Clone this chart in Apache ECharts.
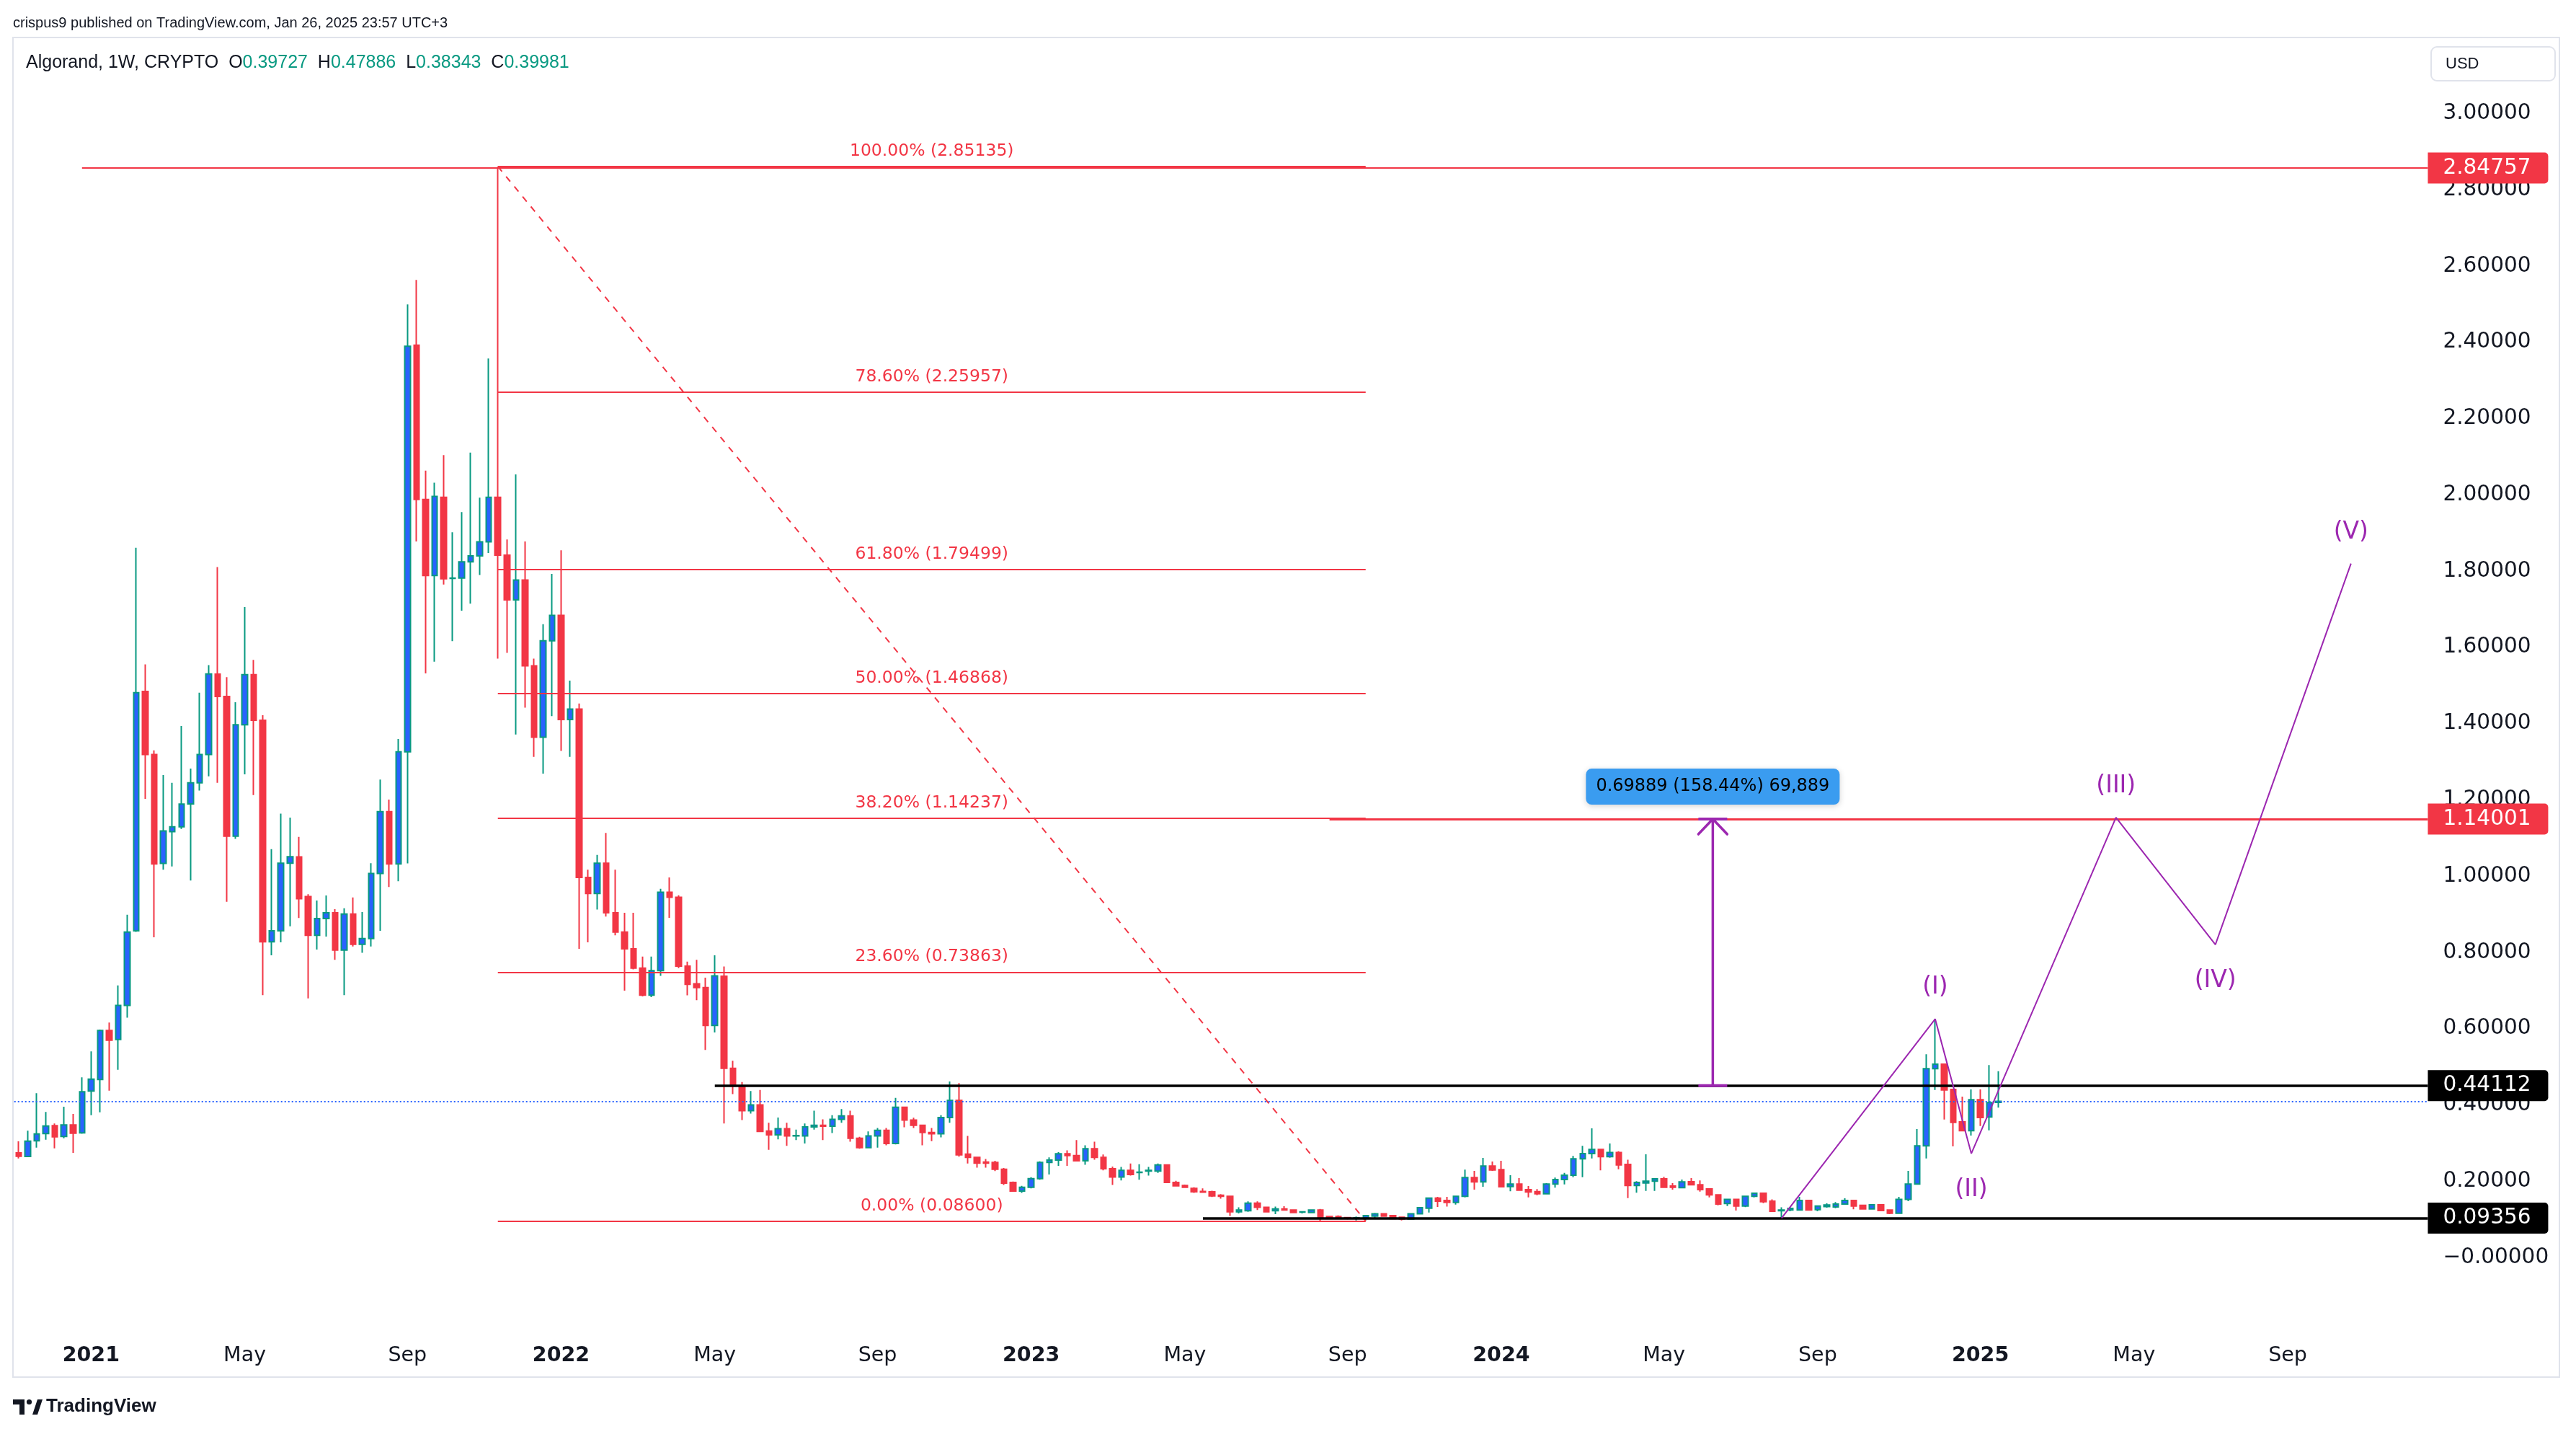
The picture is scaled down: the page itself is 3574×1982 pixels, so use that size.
<!DOCTYPE html>
<html><head><meta charset="utf-8">
<script src="https://cdn.jsdelivr.net/npm/echarts@6/dist/echarts.min.js"></script>
<style>html,body{margin:0;padding:0;background:#fff;}#c{width:3574px;height:1982px;}</style>
</head><body><div id="c"></div>
<script>
// ---------- DATA ----------
const START_WEEK = '2020-11-09';      // first weekly bar
const FUTURE_WEEKS = 47;              // empty weeks to the right of the last bar
const OPEN = [
0.2647,0.2552,0.2962,0.3151,0.3360,0.3076,0.3378,0.3170,0.4267,0.4570,
0.5855,0.5621,0.6512,0.8470,1.4750,1.3095,1.0240,1.1070,1.1200,1.1800,
1.2353,1.3095,1.5200,1.4615,1.0950,1.3872,1.5188,1.3990,0.8183,0.8470,
1.0243,1.0410,0.9370,0.8352,0.8790,0.8943,0.7964,0.8909,0.8116,0.8268,
0.9973,1.1593,1.0226,1.3163,2.3830,1.9780,1.7788,1.9840,1.7710,1.7720,
1.8147,1.8300,1.8669,1.9840,1.8320,1.7150,1.7670,1.5420,1.3545,1.6075,
1.6740,1.4010,1.4285,0.9871,0.9450,1.0243,0.8943,0.8437,0.7997,0.7491,
0.6782,0.7424,0.9483,0.9348,0.7542,0.7080,0.6980,0.5989,0.7280,0.4865,
0.4403,0.3753,0.3906,0.3220,0.3119,0.3282,0.3092,0.3092,0.3327,0.3372,
0.3345,0.3526,0.3617,0.3029,0.2785,0.3092,0.3237,0.2893,0.3843,0.3508,
0.3372,0.3183,0.3147,0.3572,0.4024,0.2613,0.2531,0.2405,0.2396,0.2215,
0.1871,0.1645,0.1745,0.1971,0.2396,0.2459,0.2622,0.2577,0.2441,0.2757,
0.2531,0.2233,0.2016,0.2188,0.2133,0.2170,0.2170,0.2332,0.1871,0.1790,
0.1718,0.1636,0.1627,0.1536,0.1509,0.1102,0.1130,0.1329,0.1220,0.1130,
0.1175,0.1148,0.1090,0.1084,0.1147,0.0977,0.0977,0.0951,0.0939,0.0939,
0.0989,0.1052,0.1002,0.0958,0.0914,0.1052,0.1197,0.1462,0.1399,0.1349,
0.1506,0.1998,0.1884,0.2300,0.2206,0.1765,0.1828,0.1683,0.1632,0.1576,
0.1830,0.1947,0.2061,0.2489,0.2628,0.2735,0.2546,0.2659,0.2344,0.1790,
0.1859,0.1903,0.1966,0.1777,0.1733,0.1891,0.1809,0.1702,0.1544,0.1317,
0.1430,0.1254,0.1506,0.1588,0.1380,0.1128,0.1147,0.1147,0.1399,0.1159,
0.1241,0.1229,0.1304,0.1399,0.1273,0.1178,0.1286,0.1147,0.1065,0.1430,
0.1828,0.2830,0.4853,0.4972,0.4311,0.3460,0.3227,0.4040,0.3586,0.39727];
const HIGH = [
0.2949,0.3227,0.4210,0.3718,0.3416,0.3857,0.3668,0.4626,0.5307,0.5880,
0.6063,0.7037,0.8890,1.8514,1.5459,1.3200,1.2555,1.2353,1.3838,1.2725,
1.4716,1.5440,1.8007,1.5120,1.4463,1.6960,1.5577,1.4125,1.0614,1.1542,
1.1440,1.0935,0.9430,0.9264,0.9399,0.9040,0.9060,0.9347,0.8960,1.0243,
1.2437,1.1914,1.3500,2.4894,2.5540,2.0540,2.0220,2.0945,1.8920,1.9450,
2.1010,1.9830,2.3480,2.8500,1.8730,2.0440,1.8680,1.5610,1.6510,1.7830,
1.8450,1.5030,1.4430,1.0074,1.0460,1.1036,1.0074,0.8943,0.8943,0.7795,
0.7795,0.9570,0.9870,0.9400,0.7660,0.7710,0.7240,0.7830,0.7533,0.5064,
0.4503,0.4268,0.4295,0.3436,0.3572,0.3436,0.3255,0.3418,0.3752,0.3526,
0.3635,0.3797,0.3752,0.3070,0.3210,0.3300,0.3300,0.4087,0.3860,0.3570,
0.3390,0.3300,0.3635,0.4520,0.4476,0.3092,0.2550,0.2486,0.2440,0.2251,
0.1898,0.1780,0.2007,0.2423,0.2531,0.2667,0.2712,0.2984,0.2848,0.2938,
0.2604,0.2287,0.2278,0.2369,0.2350,0.2278,0.2369,0.2350,0.1917,0.1817,
0.1745,0.1717,0.1654,0.1563,0.1520,0.1220,0.1374,0.1374,0.1238,0.1238,
0.1247,0.1157,0.1110,0.1166,0.1178,0.0989,0.1008,0.0958,0.0977,0.1020,
0.1071,0.1065,0.1014,0.0977,0.1065,0.1229,0.1481,0.1494,0.1494,0.1525,
0.2206,0.2174,0.2515,0.2420,0.2439,0.2061,0.1985,0.1777,0.1695,0.1853,
0.1998,0.2124,0.2565,0.2830,0.3290,0.2740,0.2893,0.2691,0.2470,0.1903,
0.2609,0.1979,0.2017,0.1853,0.1947,0.1985,0.1922,0.1714,0.1557,0.1437,
0.1449,0.1525,0.1607,0.1600,0.1430,0.1222,0.1222,0.1494,0.1418,0.1273,
0.1323,0.1355,0.1456,0.1405,0.1292,0.1304,0.1304,0.1166,0.1494,0.2174,
0.3271,0.5231,0.6157,0.4980,0.4320,0.4122,0.4311,0.4311,0.4947,0.47886];
const LOW = [
0.2502,0.2540,0.2785,0.2993,0.2766,0.3031,0.2647,0.3150,0.3636,0.3711,
0.4279,0.4827,0.6190,0.8440,1.1930,0.8301,1.0075,1.0160,1.1140,0.9787,
1.2150,1.2521,1.2353,0.9230,1.0880,1.2572,1.2032,0.6782,0.7829,0.8170,
0.8588,0.8808,0.6698,0.7980,0.8320,0.7711,0.6782,0.8060,0.7896,0.8060,
0.8470,0.9617,0.9770,1.0240,1.8680,1.5222,1.5527,1.7550,1.6067,1.6867,
1.7050,1.7800,1.8376,1.5610,1.5760,1.3620,1.4320,1.3030,1.2590,1.4100,
1.3190,1.3030,0.8000,0.8167,0.9027,0.8842,0.8352,0.6900,0.7460,0.6750,
0.6730,0.7290,0.8810,0.7490,0.6780,0.6650,0.5347,0.5803,0.3418,0.4186,
0.3508,0.3680,0.3190,0.2730,0.3002,0.2830,0.2984,0.2893,0.3255,0.2984,
0.3165,0.3436,0.2938,0.2758,0.2776,0.2785,0.2848,0.2870,0.3318,0.3300,
0.2848,0.2956,0.3056,0.3436,0.2550,0.2369,0.2260,0.2260,0.2170,0.1808,
0.1627,0.1600,0.1717,0.1944,0.2079,0.2306,0.2306,0.2430,0.2333,0.2468,
0.2188,0.1808,0.1925,0.2052,0.1944,0.2052,0.2124,0.1853,0.1763,0.1736,
0.1600,0.1600,0.1490,0.1446,0.0994,0.1057,0.1102,0.1148,0.1084,0.1039,
0.1130,0.1066,0.1060,0.1065,0.0863,0.0914,0.0914,0.0901,0.0876,0.0860,
0.0939,0.0977,0.0914,0.0876,0.0908,0.1040,0.1084,0.1229,0.1241,0.1292,
0.1481,0.1683,0.1758,0.2174,0.1746,0.1639,0.1650,0.1481,0.1538,0.1557,
0.1733,0.1820,0.2010,0.2010,0.2502,0.2187,0.2521,0.2218,0.1462,0.1601,
0.1650,0.1650,0.1733,0.1683,0.1714,0.1790,0.1632,0.1481,0.1273,0.1254,
0.1134,0.1223,0.1481,0.1330,0.1103,0.0936,0.1115,0.1128,0.1134,0.1115,
0.1210,0.1197,0.1292,0.1166,0.1159,0.1166,0.1115,0.1040,0.1052,0.1380,
0.1810,0.2502,0.4298,0.3523,0.2817,0.3220,0.3101,0.3353,0.3239,0.38343];
const CLOSE = [
0.2558,0.2955,0.3145,0.3352,0.3069,0.3378,0.3163,0.4248,0.4581,0.5855,
0.5602,0.6512,0.8437,1.4716,1.3095,1.0226,1.1087,1.1200,1.1795,1.2353,
1.3095,1.5206,1.4615,1.0952,1.3872,1.5188,1.3990,0.8183,0.8470,1.0243,
1.0411,0.9314,0.8352,0.8790,0.8943,0.7964,0.8909,0.8116,0.8268,0.9973,
1.1593,1.0226,1.3163,2.3797,1.9780,1.7788,1.9864,1.7704,1.7720,1.8147,
1.8300,1.8669,1.9840,1.8320,1.7150,1.7670,1.5420,1.3545,1.6075,1.6740,
1.4010,1.4285,0.9871,0.9450,1.0243,0.8943,0.8437,0.7997,0.7491,0.6782,
0.7424,0.9483,0.9348,0.7542,0.7069,0.6980,0.5989,0.7289,0.4865,0.4403,
0.3753,0.3906,0.3210,0.3119,0.3282,0.3092,0.3100,0.3327,0.3372,0.3345,
0.3526,0.3617,0.3029,0.2785,0.3092,0.3237,0.2893,0.3843,0.3508,0.3372,
0.3183,0.3147,0.3572,0.4024,0.2595,0.2531,0.2378,0.2378,0.2215,0.1853,
0.1645,0.1745,0.1971,0.2396,0.2459,0.2622,0.2577,0.2441,0.2757,0.2531,
0.2233,0.2016,0.2188,0.2079,0.2140,0.2188,0.2332,0.1871,0.1781,0.1745,
0.1627,0.1618,0.1518,0.1509,0.1102,0.1148,0.1329,0.1220,0.1102,0.1175,
0.1148,0.1084,0.1103,0.1147,0.0939,0.0951,0.0939,0.0926,0.0945,0.1002,
0.1052,0.0989,0.0920,0.0914,0.1052,0.1210,0.1462,0.1380,0.1349,0.1506,
0.1998,0.1884,0.2300,0.2199,0.1758,0.1828,0.1670,0.1620,0.1576,0.1830,
0.1947,0.2061,0.2489,0.2628,0.2735,0.2546,0.2659,0.2332,0.1790,0.1872,
0.1903,0.1966,0.1746,0.1746,0.1884,0.1809,0.1683,0.1544,0.1305,0.1430,
0.1254,0.1506,0.1588,0.1367,0.1115,0.1147,0.1191,0.1399,0.1147,0.1254,
0.1279,0.1304,0.1399,0.1254,0.1178,0.1286,0.1134,0.1065,0.1430,0.1828,
0.2830,0.4853,0.4972,0.4298,0.3447,0.3227,0.4040,0.3573,0.3964,0.39981];

// Fibonacci retracement (ratios and the prices printed on the chart)
const FIB_RATIOS = [1, 0.786, 0.618, 0.5, 0.382, 0.236, 0];
const FIB_PRICES = [2.85135, 2.25957, 1.79499, 1.46868, 1.14237, 0.73863, 0.08600];
const FIB_FROM_BAR = 53, FIB_TO_BAR = 149;

// Horizontal price lines: start bar, price, kind
const HLINE_BARS   = [7, 145, 77, 131];
const HLINE_PRICES = [2.84757, 1.14001, 0.44112, 0.09356];
const HLINE_KIND   = ['red', 'redBold', 'black', 'black'];

// Elliott wave projection (bar index / price)
const WAVE_BARS   = [195, 212, 216, 232, 243, 258];
const WAVE_PRICES = [0.09356, 0.6157, 0.263, 1.144, 0.811, 1.81];
const WAVE_LABELS = ['', '(I)', '(II)', '(III)', '(IV)', '(V)'];
const WAVE_LABEL_POS = ['top', 'top', 'bottom', 'top', 'bottom', 'top'];

// Price-range measurement
const MEASURE_BAR = 187.4;
const MEASURE_FROM = 0.44112, MEASURE_TO = 1.14001;

// Axis
const Y_MIN = -0.2, Y_MAX = 3.1, Y_STEP = 0.2;
const MONTH_NAMES = ['Jan','Feb','Mar','Apr','May','Jun','Jul','Aug','Sep','Oct','Nov','Dec'];
const LABEL_MONTHS = [0, 4, 8];

// ---------- BUILD ----------
const NB = OPEN.length;
const N = NB + FUTURE_WEEKS;
const t0 = Date.parse(START_WEEK + 'T00:00:00Z');
const categories = [];
for (let i = 0; i < N; i++) {
  const d = new Date(t0 + i * 7 * 86400000);
  categories.push(d.toISOString().slice(0, 10));
}
const labelSet = new Set();
for (let i = 1; i < N; i++) {
  const m = +categories[i].slice(5, 7) - 1, pm = +categories[i - 1].slice(5, 7) - 1;
  if (m !== pm && LABEL_MONTHS.includes(m)) labelSet.add(i);
}
const candles = OPEN.map((o, i) => [o, CLOSE[i], LOW[i], HIGH[i]]);

const RED = '#F23645', GREEN = '#089981', BLUE = '#2962FF', PURPLE = '#9C27B0', INK = '#131722';
const FONT = '"Liberation Sans", Arial, sans-serif';
const AXF = '"DejaVu Sans", sans-serif';
const STEP = 12.542, X0 = 26;

const mlData = [];
// Fib levels
FIB_RATIOS.forEach((r, k) => {
  const p = FIB_PRICES[k];
  const st = { lineStyle: { color: RED, width: 2, type: 'solid' },
    label: { show: true, position: 'insideMiddleTop', distance: 9, color: RED, fontSize: 23.5, fontFamily: AXF,
      formatter: (r * 100).toFixed(2) + '% (' + p.toFixed(5) + ')' } };
  mlData.push([Object.assign({ coord: [FIB_FROM_BAR, p] }, st), Object.assign({ coord: [FIB_TO_BAR, p] }, st)]);
});
// Fib trend line (dashed)
{
  const st = { lineStyle: { color: RED, width: 2, type: [9, 9] }, label: { show: false } };
  mlData.push([Object.assign({ coord: [FIB_FROM_BAR, FIB_PRICES[0]] }, st),
               Object.assign({ coord: [FIB_TO_BAR, FIB_PRICES[FIB_PRICES.length - 1]] }, st)]);
}
// Horizontal lines with axis labels
HLINE_PRICES.forEach((p, k) => {
  const kind = HLINE_KIND[k];
  const col = kind === 'black' ? '#000000' : RED;
  const w = kind === 'black' ? 3.5 : (kind === 'redBold' ? 3 : 2);
  const st = { lineStyle: { color: col, width: w, type: 'solid' },
    label: { show: true, position: 'end', distance: 0, formatter: p.toFixed(5), color: '#ffffff',
      backgroundColor: col, padding: [7, 24, 6, 21], fontSize: 29.5, fontFamily: AXF, borderRadius: [0, 5, 5, 0] } };
  mlData.push([Object.assign({ coord: [HLINE_BARS[k], p] }, st), Object.assign({ coord: [N - 0.5, p] }, st)]);
});
// last price dotted line
{
  const p = CLOSE[NB - 1];
  const st = { lineStyle: { color: BLUE, width: 2, type: [2, 3] }, label: { show: false } };
  mlData.push([Object.assign({ coord: [-0.5, p] }, st), Object.assign({ coord: [N - 0.5, p] }, st)]);
}

const last = NB - 1;
const option = {
  animation: false,
  backgroundColor: '#ffffff',
  textStyle: { fontFamily: FONT },
  grid: { left: X0 - STEP / 2, top: 99.4, width: N * STEP, height: 1745.4, show: false },
  xAxis: [
    { type: 'category', data: categories, boundaryGap: true,
      axisLine: { show: false }, axisTick: { show: false }, splitLine: { show: false },
      axisLabel: { interval: (idx) => labelSet.has(idx), margin: 21, color: INK, fontSize: 28.5, fontFamily: AXF,
        formatter: (v) => { const m = +v.slice(5, 7) - 1; return m === 0 ? '{y|' + v.slice(0, 4) + '}' : MONTH_NAMES[m]; },
        rich: { y: { fontWeight: 'bold', fontSize: 28.5, color: INK, fontFamily: AXF } } } },
    { type: 'value', min: -0.5, max: N - 0.5, show: false }
  ],
  yAxis: { type: 'value', position: 'right', min: Y_MIN, max: Y_MAX, interval: Y_STEP, scale: false,
    axisLine: { show: false }, axisTick: { show: false }, splitLine: { show: false },
    axisLabel: { margin: 21, color: INK, fontSize: 29.5, fontFamily: AXF,
      formatter: (v) => { if (v < -1e-9 || v > 3.0001) return ''; const s = Math.abs(v) < 1e-9 ? '\u22120.00000' : v.toFixed(5); return '{p|' + s + '}'; },
      rich: { p: { fontSize: 29.5, fontFamily: AXF, color: INK, padding: [10, 0, 0, 0] } } } },
  series: [
    { type: 'candlestick', xAxisIndex: 0, yAxisIndex: 0, data: candles, barWidth: 8, z: 3,
      itemStyle: { color: BLUE, color0: RED, borderColor: GREEN, borderColor0: RED, borderWidth: 2 } },
    { type: 'line', xAxisIndex: 1, yAxisIndex: 0, data: [], z: 4, silent: true,
      markLine: { symbol: ['none', 'none'], silent: true, animation: false, data: mlData } },
    { type: 'line', xAxisIndex: 1, yAxisIndex: 0, z: 5, silent: true,
      data: WAVE_BARS.map((x, i) => ({ value: [x, WAVE_PRICES[i]],
        label: { show: !!WAVE_LABELS[i], formatter: WAVE_LABELS[i], position: WAVE_LABEL_POS[i],
          distance: WAVE_LABEL_POS[i] === 'top' ? 27 : 34 } })),
      symbol: 'circle', symbolSize: 0.1, showSymbol: true,
      lineStyle: { color: PURPLE, width: 2 }, itemStyle: { color: PURPLE },
      label: { color: PURPLE, fontSize: 33, fontFamily: AXF } },
    { type: 'custom', xAxisIndex: 1, yAxisIndex: 0, z: 6, silent: true,
      data: [[MEASURE_BAR, MEASURE_FROM, MEASURE_TO]],
      renderItem: (params, api) => {
        const x = api.value(0), a = api.value(1), b = api.value(2);
        const pb = api.coord([x, a]), pt = api.coord([x, b]);
        const hw = 20, ah = 21, diff = b - a;
        const txt = diff.toFixed(5) + ' (' + (diff / a * 100).toFixed(2) + '%) ' + Math.round(diff * 1e5).toLocaleString('en-US');
        return { type: 'group', children: [
          { type: 'line', shape: { x1: pb[0], y1: pb[1], x2: pt[0], y2: pt[1] }, style: { stroke: PURPLE, lineWidth: 3.5 } },
          { type: 'line', shape: { x1: pb[0] - hw, y1: pb[1], x2: pb[0] + hw, y2: pb[1] }, style: { stroke: PURPLE, lineWidth: 4 } },
          { type: 'line', shape: { x1: pt[0] - hw, y1: pt[1], x2: pt[0] + hw, y2: pt[1] }, style: { stroke: PURPLE, lineWidth: 4 } },
          { type: 'polyline', shape: { points: [[pt[0] - hw, pt[1] + ah], [pt[0], pt[1]], [pt[0] + hw, pt[1] + ah]] },
            style: { stroke: PURPLE, lineWidth: 3.5, fill: 'none', lineCap: 'round', lineJoin: 'round' } },
          { type: 'rect', shape: { x: pt[0] - 176, y: pt[1] - 70, width: 352, height: 50, r: 8 },
            style: { fill: '#3a9cf0', shadowBlur: 8, shadowColor: 'rgba(0,0,0,0.18)', shadowOffsetY: 2 } },
          { type: 'text', style: { text: txt, x: pt[0], y: pt[1] - 45, align: 'center', verticalAlign: 'middle',
            fill: '#000000', fontSize: 24, fontFamily: AXF } }
        ] };
      } }
  ],
  graphic: [
    { type: 'rect', silent: true, z: 0, shape: { x: 18, y: 52, width: 3533, height: 1858 },
      style: { fill: 'none', stroke: '#E0E3EB', lineWidth: 2 } },
    { type: 'text', silent: true, x: 18, y: 32, style: { text: 'crispus9 published on TradingView.com, Jan 26, 2025 23:57 UTC+3',
      fill: INK, fontSize: 20, fontFamily: FONT, verticalAlign: 'middle' } },
    { type: 'text', silent: true, x: 36, y: 87, style: {
      text: '{d|Algorand, 1W, CRYPTO  O}{g|' + OPEN[last].toFixed(5) + '}{d|  H}{g|' + HIGH[last].toFixed(5) +
            '}{d|  L}{g|' + LOW[last].toFixed(5) + '}{d|  C}{g|' + CLOSE[last].toFixed(5) + '}',
      verticalAlign: 'middle', fontSize: 25, fontFamily: FONT,
      rich: { d: { fill: INK, fontSize: 25, fontFamily: FONT }, g: { fill: GREEN, fontSize: 25, fontFamily: FONT } } } },
    { type: 'rect', silent: true, shape: { x: 3373, y: 65, width: 172, height: 47, r: 8 },
      style: { fill: '#ffffff', stroke: '#E0E3EB', lineWidth: 2 } },
    { type: 'text', silent: true, x: 3393, y: 89, style: { text: 'USD', fill: INK, fontSize: 22, fontFamily: FONT, verticalAlign: 'middle' } },
    { type: 'polygon', silent: true, shape: { points: [[18, 1941], [34, 1941], [34, 1962], [27, 1962], [27, 1948], [18, 1948]] }, style: { fill: INK } },
    { type: 'circle', silent: true, shape: { cx: 40.5, cy: 1944.5, r: 3.6 }, style: { fill: INK } },
    { type: 'polygon', silent: true, shape: { points: [[45, 1962], [52, 1941], [59, 1941], [52, 1962]] }, style: { fill: INK } },
    { type: 'text', silent: true, x: 64, y: 1951, style: { text: 'TradingView', fill: INK, fontSize: 26, fontWeight: 'bold', fontFamily: FONT, verticalAlign: 'middle' } }
  ]
};
const chart = echarts.init(document.getElementById('c'), null, { renderer: 'canvas' });
chart.setOption(option);
</script>
</body></html>
